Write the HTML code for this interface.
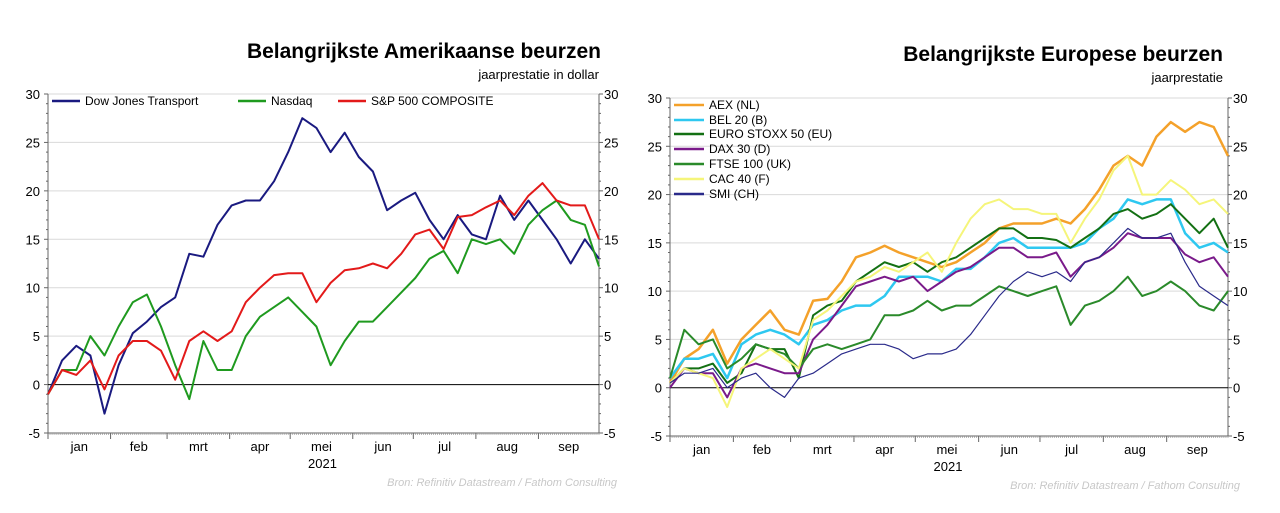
<!DOCTYPE html>
<html><head><meta charset="utf-8">
<style>
html,body{margin:0;padding:0;background:#fff;}
svg{display:block;font-family:"Liberation Sans",Arial,sans-serif;}
</style></head>
<body>
<svg id="svg" width="1280" height="513" viewBox="0 0 1280 513" xmlns="http://www.w3.org/2000/svg">
<text x="601" y="58" text-anchor="end" font-size="21" font-weight="bold" fill="#000">Belangrijkste Amerikaanse beurzen</text>
<text x="599" y="79" text-anchor="end" font-size="13" fill="#000">jaarprestatie in dollar</text>
<text x="1223" y="61" text-anchor="end" font-size="21" font-weight="bold" fill="#000">Belangrijkste Europese beurzen</text>
<text x="1223" y="82" text-anchor="end" font-size="13" fill="#000">jaarprestatie</text>
<text x="617" y="486" text-anchor="end" font-size="11" font-style="italic" fill="#c8c8c8">Bron: Refinitiv Datastream / Fathom Consulting</text>
<text x="1240" y="489" text-anchor="end" font-size="11" font-style="italic" fill="#c8c8c8">Bron: Refinitiv Datastream / Fathom Consulting</text>
<g id="left"></g>
<g id="right"></g>
</svg>
<script>
const months = ["jan","feb","mrt","apr","mei","jun","jul","aug","sep"];
const yTicks = [-5,0,5,10,15,20,25,30];
// weekly values (week 0..39)
const dowTransport = [-1,2.5,4,3,-3,2,5.3,6.5,8,9,13.5,13.2,16.5,18.5,19,19,21,24,27.5,26.5,24,26,23.5,22,18,19,19.8,17,15,17.5,15.5,15,19.5,17,19,17,15,12.5,15,13];
const nasdaq = [-1,1.5,1.5,5,3,6,8.5,9.3,6,2,-1.5,4.5,1.5,1.5,5,7,8,9,7.5,6,2,4.5,6.5,6.5,8,9.5,11,13,13.8,11.5,15,14.5,15,13.5,16.5,18,19,17,16.5,12.2];
const sp500 = [-1,1.5,1,2.5,-0.5,3,4.5,4.5,3.5,0.5,4.5,5.5,4.5,5.5,8.5,10,11.3,11.5,11.5,8.5,10.5,11.8,12,12.5,12,13.5,15.5,16,14,17.3,17.5,18.3,19,17.5,19.5,20.8,19,18.5,18.5,15];
const aex = [0.5,3,4,6,2.5,5,6.5,8,6,5.5,9,9.2,11,13.5,14,14.7,14,13.5,13,12.5,13,14,15,16.5,17,17,17,17.5,17,18.5,20.5,23,24,23,26,27.5,26.5,27.5,27,24];
const bel20 = [1,3,3,3.5,1,4.5,5.5,6,5.5,4.5,6.5,7,8,8.5,8.5,9.5,11.5,11.5,11.5,11,12.3,12.3,13.5,15,15.5,14.5,14.5,14.5,14.5,15,16.5,17.5,19.5,19,19.5,19.5,16,14.5,15,14];
const eurostoxx = [0.5,2,2,2.5,0.5,1.5,4.5,4,4,1,7.5,8.5,9,11,12,13,12.5,13,12,13,13.5,14.5,15.5,16.5,16.5,15.5,15.5,15.3,14.5,15.5,16.5,18,18.5,17.5,18,19,17.5,16,17.5,14.5];
const dax = [0,2,1.5,1.5,-1,2,2.5,2,1.5,1.5,5,6.5,8.5,10.5,11,11.5,11,11.5,10,11,12,12.5,13.5,14.5,14.5,13.5,13.5,14,11.5,13,13.5,14.5,16,15.5,15.5,15.5,13.8,13,13.5,11.5];
const ftse = [1,6,4.5,5,2,3,4.5,4,3.5,2,4,4.5,4,4.5,5,7.5,7.5,8,9,8,8.5,8.5,9.5,10.5,10,9.5,10,10.5,6.5,8.5,9,10,11.5,9.5,10,11,10,8.5,8,10];
const cac = [0.5,2,1.5,1,-2,2,3,4,3,2,7,8,9.5,11,11.5,12.5,12,13,14,12,15,17.5,19,19.5,18.5,18.5,18,18,15,17.5,19.5,22.5,24,20,20,21.5,20.5,19,19.5,18];
const smi = [0.5,1.5,1.5,2,0,1,1.5,0,-1,1,1.5,2.5,3.5,4,4.5,4.5,4,3,3.5,3.5,4,5.5,7.5,9.5,11,12,11.5,12,11,13,13.5,15,16.5,15.5,15.5,16,13,10.5,9.5,8.5];

const NS="http://www.w3.org/2000/svg";
function mk(tag,attrs,parent,txt){const e=document.createElementNS(NS,tag);for(const k in attrs)e.setAttribute(k,attrs[k]);if(txt!==undefined)e.textContent=txt;parent.appendChild(e);return e;}

function chart(g,cfg){
  const {x0,x1,yTop,yBot}=cfg;
  const X=i=>x0+(x1-x0)*i/39;
  const Y=v=>yBot-(v+5)*(yBot-yTop)/35;
  yTicks.forEach(t=>{
    if(t!==-5&&t!==0){const l=mk('line',{x1:x0,x2:x1,y1:Y(t),y2:Y(t),stroke:'#d9d9d9','stroke-width':1},g);
      }
    const a=mk('text',{x:x0-8,y:Y(t)+5,'text-anchor':'end','font-size':13,fill:'#000'},g,String(t));
    
    const b=mk('text',{x:x1+5,y:Y(t)+5,'font-size':13,fill:'#000'},g,String(t));
    
  });
  for(let v=-5;v<=30;v+=1){
    const len=v%5===0?4:2;
    mk('line',{x1:x0-len,x2:x0,y1:Y(v),y2:Y(v),stroke:'#666'},g);
    mk('line',{x1:x1,x2:x1+len,y1:Y(v),y2:Y(v),stroke:'#666'},g);
  }
  const ax=mk('path',{d:`M${x0},${yTop}V${yBot}H${x1}V${yTop}`,fill:'none',stroke:'#666','stroke-width':1},g);
  
  const z=mk('line',{x1:x0,x2:x1,y1:Y(0),y2:Y(0),stroke:'#000','stroke-width':1},g);
  
  const dayW=(x1-x0)/(39*7);
  for(let d=0;d<=273;d++){const x=x0+d*dayW;if(x>x1)break;mk('line',{x1:x,x2:x,y1:yBot,y2:yBot+2,stroke:'#888','stroke-width':0.6},g);}
  const mdays=[0,31,59,90,120,151,181,212,243,273];
  months.forEach((m,i)=>{
    const xs=x0+mdays[i]*dayW;
    mk('line',{x1:xs,x2:xs,y1:yBot,y2:yBot+6,stroke:'#666'},g);
    const t=mk('text',{x:x0+(mdays[i]+mdays[i+1])/2*dayW,y:yBot+18,'text-anchor':'middle','font-size':13,fill:'#000'},g,m);
    
  });
  const yr=mk('text',{x:(x0+x1)/2-1,y:yBot+35,'text-anchor':'middle','font-size':13,fill:'#000'},g,'2021');
  
  cfg.series.forEach(s=>{
    const p=mk('path',{d:s.data.map((v,i)=>(i?'L':'M')+X(i).toFixed(1)+','+Y(v).toFixed(1)).join(''),fill:'none',stroke:s.color,'stroke-width':s.w,'stroke-linejoin':'round'},g);
    
  });
  cfg.series.forEach((s,i)=>{
    const lx=cfg.legend[i][0],ly=cfg.legend[i][1];
    const lg=mk('g',{},g);
    
    mk('line',{x1:lx,x2:lx+cfg.lw,y1:ly,y2:ly,stroke:s.color,'stroke-width':2.5},lg);
    mk('text',{x:lx+cfg.lw+5,y:ly+4,'font-size':12,fill:'#000'},lg,s.label);
  });
}
chart(document.getElementById('left'),{x0:48,x1:599,yTop:94,yBot:433,lw:28,
  series:[{name:'dow-jones-transport',label:'Dow Jones Transport',data:dowTransport,color:'#1a1a80',w:2},
          {name:'nasdaq',label:'Nasdaq',data:nasdaq,color:'#1f9a1f',w:2},
          {name:'sp500',label:'S&P 500 COMPOSITE',data:sp500,color:'#e31a1a',w:2}],
  legend:[[52,101],[238,101],[338,101]]});
chart(document.getElementById('right'),{x0:670,x1:1228,yTop:98,yBot:436,lw:30,
  series:[{name:'aex',label:'AEX (NL)',data:aex,color:'#f4a12a',w:2.5},
          {name:'bel20',label:'BEL 20 (B)',data:bel20,color:'#2ec8f0',w:2.5},
          {name:'euro-stoxx-50',label:'EURO STOXX 50 (EU)',data:eurostoxx,color:'#137013',w:2},
          {name:'dax30',label:'DAX 30  (D)',data:dax,color:'#7a1a8a',w:2},
          {name:'ftse100',label:'FTSE 100 (UK)',data:ftse,color:'#2a8a2a',w:2},
          {name:'cac40',label:'CAC 40 (F)',data:cac,color:'#f5f57a',w:2},
          {name:'smi',label:'SMI (CH)',data:smi,color:'#2a2a8a',w:1.2}],
  legend:[[674,105],[674,120],[674,134],[674,149],[674,164],[674,179],[674,194]]});
</script>
</body></html>
